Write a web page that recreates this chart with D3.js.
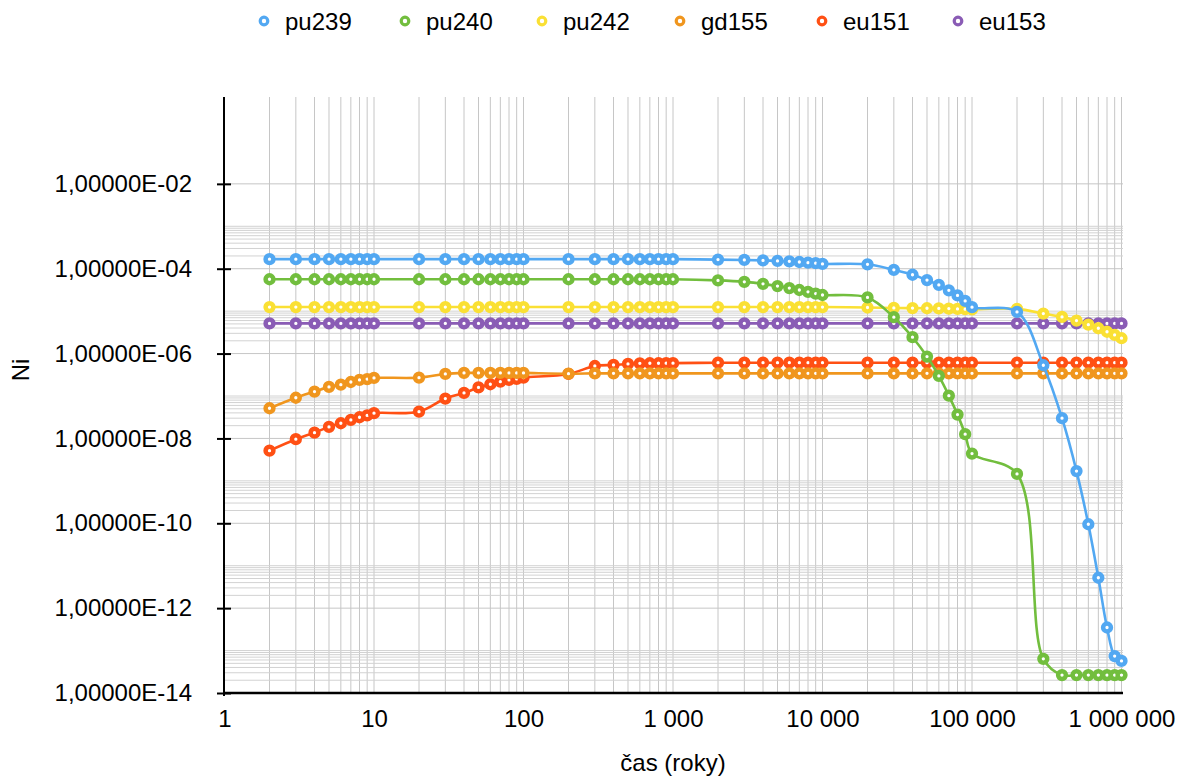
<!DOCTYPE html>
<html><head><meta charset="utf-8">
<script src="https://cdn.jsdelivr.net/npm/d3@7"></script>
<style>
body{margin:0;background:#fff}
text{font-family:"Liberation Sans",Arial,Helvetica,sans-serif;fill:#000}
</style>
</head><body><svg id="c" width="1178" height="776"></svg>
<script>
const times = [2,3,4,5,6,7,8,9,10, 20,30,40,50,60,70,80,90,100,
  200,300,400,500,600,700,800,900,1000, 2000,3000,4000,5000,6000,7000,8000,9000,10000,
  20000,30000,40000,50000,60000,70000,80000,90000,100000,
  200000,300000,400000,500000,600000,700000,800000,900000,1000000];

const pu239 = [1.68e-4,1.68e-4,1.68e-4,1.68e-4,1.68e-4,1.68e-4,1.68e-4,1.68e-4,1.68e-4,
  1.68e-4,1.68e-4,1.68e-4,1.68e-4,1.68e-4,1.68e-4,1.68e-4,1.68e-4,1.68e-4,
  1.68e-4,1.68e-4,1.68e-4,1.68e-4,1.68e-4,1.68e-4,1.68e-4,1.68e-4,1.68e-4,
  1.64e-4,1.61e-4,1.57e-4,1.53e-4,1.49e-4,1.44e-4,1.39e-4,1.35e-4,1.30e-4,
  1.27e-4,9.4e-5,7.2e-5,5.4e-5,4.15e-5,3.1e-5,2.35e-5,1.74e-5,1.24e-5,
  9.6e-6,5.3e-7,3.0e-8,1.7e-9,9.5e-11,5.2e-12,3.5e-13,7.4e-14,5.7e-14];

const pu240 = [5.65e-5,5.65e-5,5.65e-5,5.65e-5,5.65e-5,5.65e-5,5.65e-5,5.65e-5,5.65e-5,
  5.65e-5,5.65e-5,5.65e-5,5.65e-5,5.65e-5,5.65e-5,5.65e-5,5.65e-5,5.65e-5,
  5.65e-5,5.65e-5,5.65e-5,5.65e-5,5.65e-5,5.65e-5,5.65e-5,5.65e-5,5.65e-5,
  5.3e-5,4.9e-5,4.4e-5,3.9e-5,3.5e-5,3.15e-5,2.85e-5,2.6e-5,2.4e-5,
  2.1e-5,7.2e-6,2.43e-6,8.5e-7,2.97e-7,1.02e-7,3.64e-8,1.26e-8,4.4e-9,
  1.46e-9,6.4e-14,2.65e-14,2.65e-14,2.65e-14,2.65e-14,2.65e-14,2.65e-14,2.65e-14];

const pu242 = [1.25e-5,1.25e-5,1.25e-5,1.25e-5,1.25e-5,1.25e-5,1.25e-5,1.25e-5,1.25e-5,
  1.25e-5,1.25e-5,1.25e-5,1.25e-5,1.25e-5,1.25e-5,1.25e-5,1.25e-5,1.25e-5,
  1.25e-5,1.25e-5,1.25e-5,1.25e-5,1.25e-5,1.25e-5,1.25e-5,1.25e-5,1.25e-5,
  1.25e-5,1.25e-5,1.25e-5,1.25e-5,1.25e-5,1.25e-5,1.25e-5,1.25e-5,1.25e-5,
  1.22e-5,1.19e-5,1.18e-5,1.17e-5,1.16e-5,1.15e-5,1.13e-5,1.11e-5,1.1e-5,
  1.13e-5,8.75e-6,7.3e-6,6.0e-6,4.8e-6,3.95e-6,3.27e-6,2.75e-6,2.3e-6];

const gd155 = [5.14e-8,9.1e-8,1.27e-7,1.64e-7,1.85e-7,2.14e-7,2.39e-7,2.5e-7,2.67e-7,
  2.71e-7,3.31e-7,3.5e-7,3.5e-7,3.5e-7,3.5e-7,3.5e-7,3.5e-7,3.5e-7,
  3.35e-7,3.42e-7,3.42e-7,3.42e-7,3.42e-7,3.42e-7,3.42e-7,3.42e-7,3.42e-7,
  3.42e-7,3.42e-7,3.42e-7,3.42e-7,3.42e-7,3.42e-7,3.42e-7,3.42e-7,3.42e-7,
  3.42e-7,3.42e-7,3.42e-7,3.42e-7,3.42e-7,3.42e-7,3.42e-7,3.42e-7,3.42e-7,
  3.42e-7,3.42e-7,3.42e-7,3.42e-7,3.42e-7,3.42e-7,3.42e-7,3.42e-7,3.42e-7];

const eu151 = [5.15e-9,9.6e-9,1.37e-8,1.87e-8,2.28e-8,2.73e-8,3.16e-8,3.48e-8,3.93e-8,
  4.28e-8,8.7e-8,1.18e-7,1.59e-7,1.89e-7,2.18e-7,2.39e-7,2.52e-7,2.71e-7,
  3.31e-7,5.1e-7,5.4e-7,5.7e-7,5.9e-7,5.92e-7,5.92e-7,5.95e-7,5.95e-7,
  6.1e-7,6.1e-7,6.1e-7,6.1e-7,6.1e-7,6.1e-7,6.1e-7,6.1e-7,6.1e-7,
  6.1e-7,6.1e-7,6.1e-7,6.1e-7,6.1e-7,6.1e-7,6.1e-7,6.1e-7,6.1e-7,
  6.1e-7,6.1e-7,6.1e-7,6.1e-7,6.1e-7,6.1e-7,6.1e-7,6.1e-7,6.1e-7];

const eu153 = [5.14e-6,5.14e-6,5.14e-6,5.14e-6,5.14e-6,5.14e-6,5.14e-6,5.14e-6,5.14e-6,
  5.14e-6,5.14e-6,5.14e-6,5.14e-6,5.14e-6,5.14e-6,5.14e-6,5.14e-6,5.14e-6,
  5.14e-6,5.14e-6,5.14e-6,5.14e-6,5.14e-6,5.14e-6,5.14e-6,5.14e-6,5.14e-6,
  5.14e-6,5.14e-6,5.14e-6,5.14e-6,5.14e-6,5.14e-6,5.14e-6,5.14e-6,5.14e-6,
  5.14e-6,5.14e-6,5.14e-6,5.14e-6,5.14e-6,5.14e-6,5.14e-6,5.14e-6,5.14e-6,
  5.14e-6,5.14e-6,5.14e-6,5.14e-6,5.14e-6,5.14e-6,5.14e-6,5.14e-6,5.14e-6];

const seriesNames = ["pu239","pu240","pu242","gd155","eu151","eu153"];
const seriesValues = [pu239, pu240, pu242, gd155, eu151, eu153];
const seriesColors = ["#52a8f2","#72be3e","#fae034","#f0961e","#ff5014","#8a5cb5"];

const xTickValues = [1,10,100,1000,10000,100000,1000000];
const xTickLabels = ["1","10","100","1 000","10 000","100 000","1 000 000"];
const yTickValues = [1e-2,1e-4,1e-6,1e-8,1e-10,1e-12,1e-14];
const yTickLabels = ["1,00000E-02","1,00000E-04","1,00000E-06","1,00000E-08","1,00000E-10","1,00000E-12","1,00000E-14"];

const svg = d3.select("#c");
const x = d3.scaleLog().domain([1, 1e6]).range([224.5, 1121.5]);
const y = d3.scaleLog().domain([1e-14, 1]).range([693, 99]);
const pTop = 97, pBottom = 693, pLeft = 224, pRight = 1123;
const FS = "24px";

// grid
const grid = svg.append("g");
const vGrid = [];
for (let e = 0; e < 6; e++) for (let k = 1; k <= 9; k++) vGrid.push(k * Math.pow(10, e));
vGrid.push(1e6);
grid.selectAll("line.v").data(vGrid).join("line").attr("class", "v")
  .attr("x1", d => x(d)).attr("x2", d => x(d))
  .attr("y1", pTop).attr("y2", pBottom)
  .attr("stroke", "#c6c6c6").attr("stroke-width", 1);
const hMinor = [];
yTickValues.filter(v => v < 1e-3).forEach(v => { for (let k = 2; k <= 10; k++) hMinor.push(k * v); });
grid.selectAll("line.hm").data(hMinor).join("line").attr("class", "hm")
  .attr("x1", pLeft).attr("x2", pRight)
  .attr("y1", d => y(d)).attr("y2", d => y(d))
  .attr("stroke", "#d2d2d2").attr("stroke-width", 1);
grid.selectAll("line.h").data(yTickValues).join("line").attr("class", "h")
  .attr("x1", pLeft).attr("x2", pRight)
  .attr("y1", d => y(d)).attr("y2", d => y(d))
  .attr("stroke", "#c6c6c6").attr("stroke-width", 1);

// series (drawn last-first so pu239 is on top)
const line = d3.line()
  .x(d => x(d[0])).y(d => y(d[1]))
  .curve(d3.curveCatmullRom.alpha(0.5));
for (let s = seriesNames.length - 1; s >= 0; s--) {
  const pts = times.map((t, i) => [t, seriesValues[s][i]]);
  const g = svg.append("g");
  g.append("path").attr("d", line(pts)).attr("fill", "none")
    .attr("stroke", seriesColors[s]).attr("stroke-width", 2.6);
  g.selectAll("circle").data(pts).join("circle")
    .attr("cx", d => x(d[0])).attr("cy", d => y(d[1]))
    .attr("r", 3.9).attr("fill", "#fff")
    .attr("stroke", seriesColors[s]).attr("stroke-width", 4.5);
}

// axes
const yAxis = d3.axisLeft(y).tickValues(yTickValues)
  .tickFormat((d, i) => yTickLabels[i]).tickSizeInner(7).tickSizeOuter(0).tickPadding(25);
const ya = svg.append("g").attr("transform", `translate(${pLeft},0)`).call(yAxis);
ya.select(".domain").remove();
ya.selectAll(".tick line").attr("x1", 7).attr("stroke", "#000").attr("stroke-width", 2);
ya.selectAll(".tick text").style("font-size", FS).attr("fill", "#000");

const xAxis = d3.axisBottom(x).tickValues(xTickValues)
  .tickFormat((d, i) => xTickLabels[i]).tickSize(0).tickPadding(17);
const xa = svg.append("g").attr("transform", `translate(0,${pBottom})`).call(xAxis);
xa.select(".domain").remove();
xa.selectAll(".tick text").style("font-size", FS).attr("fill", "#000");

svg.append("line").attr("x1", pLeft).attr("x2", pLeft).attr("y1", pTop).attr("y2", pBottom + 3)
  .attr("stroke", "#000").attr("stroke-width", 2);
svg.append("line").attr("x1", pLeft - 1).attr("x2", pRight).attr("y1", pBottom).attr("y2", pBottom)
  .attr("stroke", "#000").attr("stroke-width", 2.6);

// titles
svg.append("text").attr("x", 673).attr("y", 771).attr("text-anchor", "middle")
  .style("font-size", FS).text("čas (roky)");
svg.append("text").attr("transform", "translate(29,370) rotate(-90)").attr("text-anchor", "middle")
  .style("font-size", FS).text("Ni");

// legend
const legendX = [264, 405, 542, 680, 822, 958];
const lg = svg.append("g");
seriesNames.forEach((n, i) => {
  lg.append("circle").attr("cx", legendX[i]).attr("cy", 21).attr("r", 3.8)
    .attr("fill", "#fff").attr("stroke", seriesColors[i]).attr("stroke-width", 3.2);
  lg.append("text").attr("x", legendX[i] + 21).attr("y", 30).style("font-size", FS).text(n);
});
</script>
</body></html>
